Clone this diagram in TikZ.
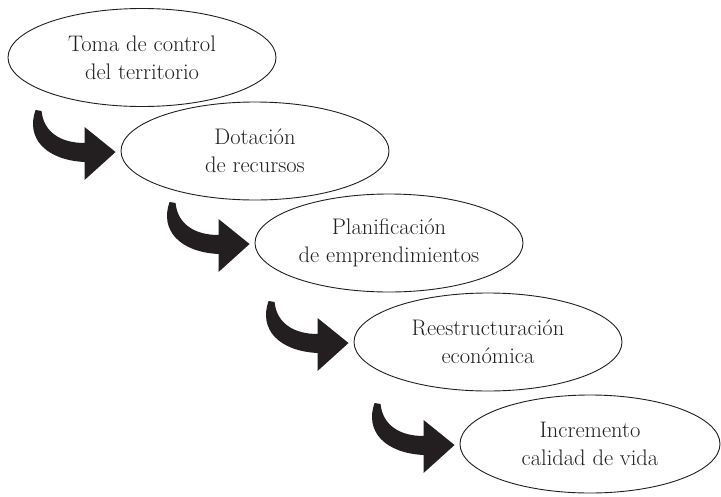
\documentclass[tikz,border=0pt]{standalone}
\usepackage{tikz}
\usetikzlibrary{calc,shapes.geometric}

\definecolor{ink}{HTML}{231F20}

\tikzset{
  oval/.style={ellipse, draw=ink, line width=0.9pt, inner sep=0pt,
    minimum width=268pt, minimum height=98pt, align=center,
    text=ink, font=\fontsize{22.5}{28}\selectfont},
  bentfill/.style={fill=ink, draw=none}
}

\begin{document}
\begin{tikzpicture}[x=1pt,y=-1pt]
		\useasboundingbox (0,0) rectangle (721,496);
		% the five steps
		\node[oval] (e1) at (142,57.5) {Toma de control\\del territorio};
		\node[oval] (e2) at (255,151) {Dotaci\'on\\de recursos};
		\node[oval] (e3) at (389,243) {Planificaci\'on\\de emprendimientos};
		\node[oval] (e4) at (488,342) {Reestructuraci\'on\\econ\'omica};
		\node[oval, minimum width=260pt] (e5) at (590,444) {Incremento\\calidad de vida};

		% thick bent arrow in front of each step
		\foreach \n in {e2,e3,e4,e5}{%
		  \fill[bentfill, shift={($(\n.west)+(-5,1)$)}]
		    (-80,-42) .. controls (-90,-14) and (-70,8) .. (-31,10)
		    -- (-31,28) -- (0,0) -- (-31,-25) -- (-31,-9)
		    .. controls (-55,-9) and (-72,-20) .. (-74,-41) -- cycle;
		}
\end{tikzpicture}
\end{document}
